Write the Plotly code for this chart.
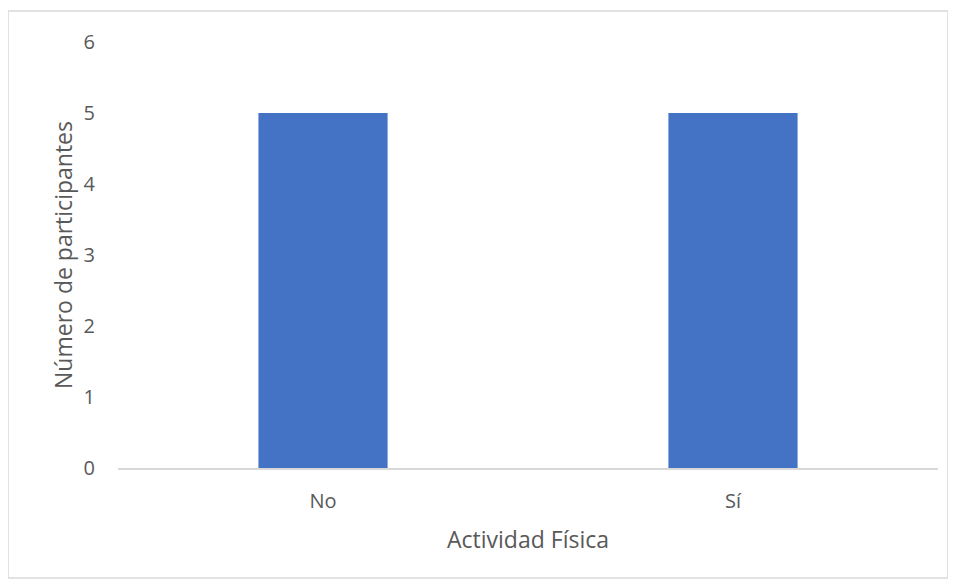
import plotly.graph_objects as go

categories = ["No", "Sí"]
values = [5, 5]
y_ticks = [0, 1, 2, 3, 4, 5, 6]

fig = go.Figure(go.Bar(x=categories, y=values, marker=dict(color="#4472C4", line=dict(width=0))))

fig.update_layout(
    width=948, height=573,
    margin=dict(l=110, r=18, t=34, b=113),
    paper_bgcolor="white", plot_bgcolor="white",
    bargap=0.685,
    showlegend=False,
    font=dict(family="Open Sans", color="#595959", size=20),
    xaxis=dict(
        showline=True, linecolor="#D9D9D9", linewidth=1.5,
        showgrid=False, ticks="", tickfont=dict(size=20),
        ticklabelstandoff=14,
        title=dict(text="Actividad Física", font=dict(size=23), standoff=19),
    ),
    yaxis=dict(
        range=[0, 6], tickvals=y_ticks, showgrid=False, zeroline=False,
        showline=False, ticks="", ticklabelstandoff=22, tickfont=dict(size=20),
        title=dict(text="Número de participantes", font=dict(size=23), standoff=4),
    ),
    shapes=[dict(type="rect", xref="paper", yref="paper",
                 x0=(8-118)/820, x1=(948-118)/820,
                 y0=(468-578)/426, y1=(468-11)/426,
                 line=dict(color="#D9D9D9", width=1.5), fillcolor="rgba(0,0,0,0)", layer="below")],
)

fig.write_html("out.html")
